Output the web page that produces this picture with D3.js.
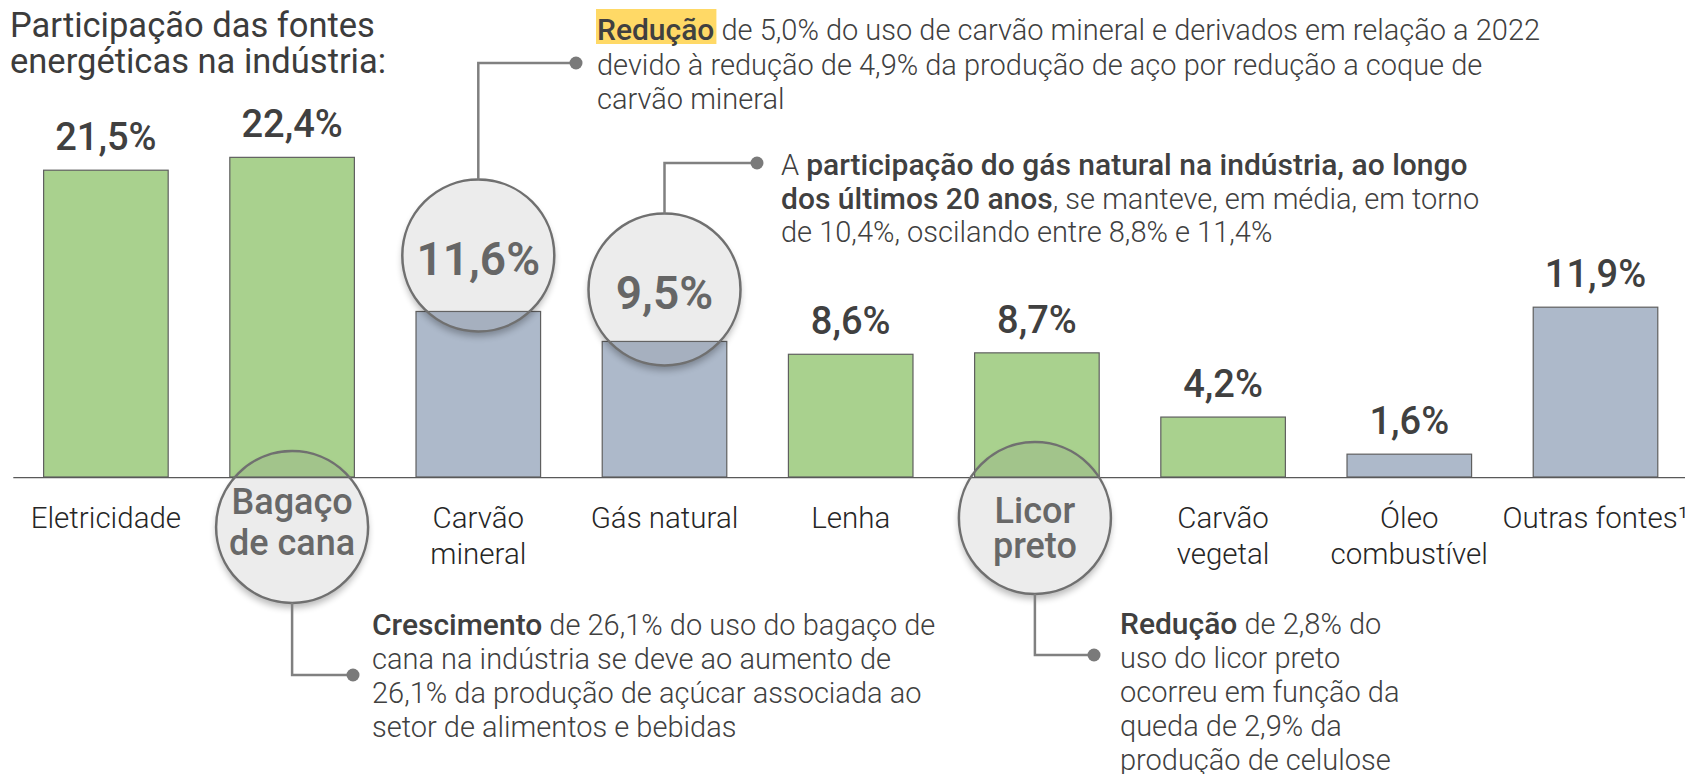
<!DOCTYPE html>
<html>
<head>
<meta charset="utf-8">
<script src="https://cdn.jsdelivr.net/npm/d3@7"></script>
<style>
  html, body { margin: 0; padding: 0; background: #fff; }
  svg { display: block; }
  text { font-family: Roboto, "Noto Sans", sans-serif; white-space: pre; }
</style>
</head>
<body>
<div id="chart"></div>
<script>
// ---------------- DATA ----------------
const categories = ["Eletricidade", "Bagaço de cana", "Carvão mineral", "Gás natural", "Lenha",
                    "Licor preto", "Carvão vegetal", "Óleo combustível", "Outras fontes¹"];
const values = [21.5, 22.4, 11.6, 9.5, 8.6, 8.7, 4.2, 1.6, 11.9];
const sourceType = ["renovável", "renovável", "não renovável", "não renovável", "renovável",
                    "renovável", "renovável", "não renovável", "não renovável"];
const valueLabels = ["21,5%", "22,4%", "11,6%", "9,5%", "8,6%", "8,7%", "4,2%", "1,6%", "11,9%"];
const categoryLines = [["Eletricidade"], ["Bagaço", "de cana"], ["Carvão", "mineral"], ["Gás natural"], ["Lenha"],
                       ["Licor", "preto"], ["Carvão", "vegetal"], ["Óleo", "combustível"], ["Outras fontes¹"]];
const titleLines = ["Participação das fontes", "energéticas na indústria:"];

// highlighted categories (value shown in a magnifier circle / label in circle)
const valueCircles = ["Carvão mineral", "Gás natural"];
const labelCircles = ["Bagaço de cana", "Licor preto"];

// annotation texts (segments: [text, bold, highlight])
const noteCarvao = [
  [["Redução", true, true], [" de 5,0% do uso de carvão mineral e derivados em relação a 2022", false]],
  [["devido à redução de 4,9% da produção de aço por redução a coque de", false]],
  [["carvão mineral", false]]
];
const noteGas = [
  [["A ", false], ["participação do gás natural na indústria, ao longo", true]],
  [["dos últimos 20 anos", true], [", se manteve, em média, em torno", false]],
  [["de 10,4%, oscilando entre 8,8% e 11,4%", false]]
];
const noteBagaco = [
  [["Crescimento", true], [" de 26,1% do uso do bagaço de", false]],
  [["cana na indústria se deve ao aumento de", false]],
  [["26,1% da produção de açúcar associada ao", false]],
  [["setor de alimentos e bebidas", false]]
];
const noteLicor = [
  [["Redução", true], [" de 2,8% do", false]],
  [["uso do licor preto", false]],
  [["ocorreu em função da", false]],
  [["queda de 2,9% da", false]],
  [["produção de celulose", false]]
];

// ---------------- LAYOUT ----------------
const W = 1685, H = 774;
const colors = { "renovável": "#A9D18E", "não renovável": "#ADB9CA" };
const textDark = "#404040";

const svg = d3.select("#chart").append("svg").attr("width", W).attr("height", H);
const defs = svg.append("defs");

const x = d3.scaleBand().domain(categories).range([12.8, 1688.6]).paddingInner(0.331).paddingOuter(0.1655);
const y = d3.scaleLinear().domain([0, 25]).range([477, 477 - 25 * 14.27]);
const cx = c => x(c) + x.bandwidth() / 2;

// Title
const title = svg.append("text").attr("font-size", 34.5).attr("font-weight", 400).attr("fill", "#3c3c3c");
titleLines.forEach((l, i) => title.append("tspan").attr("x", 10).attr("y", 36.5 + i * 36.8).text(l));

// Bars
const data = categories.map((c, i) => ({ c, v: values[i], t: sourceType[i], lab: valueLabels[i], lines: categoryLines[i] }));
svg.append("g").selectAll("rect").data(data).join("rect")
  .attr("x", d => x(d.c)).attr("width", x.bandwidth())
  .attr("y", d => y(d.v)).attr("height", d => y(0) - y(d.v))
  .attr("fill", d => colors[d.t]).attr("stroke", "#5f5f5f").attr("stroke-width", 1.2);

// Circles geometry
const R = 76;
const circ = {
  "Carvão mineral": { cx: cx("Carvão mineral"), cy: y(11.6) - 56 },
  "Gás natural":    { cx: cx("Gás natural"),    cy: y(9.5) - 52 },
  "Bagaço de cana": { cx: cx("Bagaço de cana"), cy: y(0) + 50 },
  "Licor preto":    { cx: cx("Licor preto") - 2, cy: y(0) + 41 }
};
const allCirc = Object.keys(circ);

// Axis (hidden under bottom circles)
const axisMask = defs.append("mask").attr("id", "axisMask").attr("maskUnits", "userSpaceOnUse")
  .attr("x", 0).attr("y", 0).attr("width", W).attr("height", H);
axisMask.append("rect").attr("width", W).attr("height", H).attr("fill", "#fff");
labelCircles.forEach(c => axisMask.append("circle").attr("cx", circ[c].cx).attr("cy", circ[c].cy).attr("r", R).attr("fill", "#000"));

const axisG = svg.append("g").attr("transform", `translate(0,${y(0)})`).attr("mask", "url(#axisMask)")
  .call(d3.axisBottom(x).tickSize(0).tickSizeOuter(0).tickFormat(""));
axisG.select(".domain").attr("stroke", "#595959").attr("stroke-width", 1.5);

// Category labels
const labG = svg.append("g");
data.filter(d => !labelCircles.includes(d.c)).forEach(d => {
  const t = labG.append("text").attr("text-anchor", "middle").attr("font-size", 29.5)
    .attr("font-weight", 300).attr("fill", "#262626");
  d.lines.forEach((l, i) => t.append("tspan").attr("x", cx(d.c)).attr("y", 528 + i * 36).text(l));
});

// Value labels above bars
svg.append("g").selectAll("text").data(data.filter(d => !valueCircles.includes(d.c))).join("text")
  .attr("x", d => cx(d.c)).attr("y", d => y(d.v) - 20)
  .attr("text-anchor", "middle").attr("font-size", 38).attr("font-weight", 500).attr("fill", textDark)
  .text(d => d.lab);

// Shadows + circles
defs.append("filter").attr("id", "blur").attr("x", "-50%").attr("y", "-50%").attr("width", "200%").attr("height", "200%")
  .append("feGaussianBlur").attr("stdDeviation", 3.5);
allCirc.forEach((c, i) => {
  const p = circ[c];
  const m = defs.append("mask").attr("id", "sm" + i).attr("maskUnits", "userSpaceOnUse")
    .attr("x", 0).attr("y", 0).attr("width", W).attr("height", H);
  m.append("rect").attr("width", W).attr("height", H).attr("fill", "#fff");
  m.append("circle").attr("cx", p.cx).attr("cy", p.cy).attr("r", R).attr("fill", "#000");
  svg.append("g").attr("mask", `url(#sm${i})`)
    .append("circle").attr("cx", p.cx).attr("cy", p.cy + 5).attr("r", R)
    .attr("fill", "#000").attr("opacity", 0.28).attr("filter", "url(#blur)");
  svg.append("circle").attr("cx", p.cx).attr("cy", p.cy).attr("r", R)
    .attr("fill", "rgb(128,128,128)").attr("fill-opacity", 0.15)
    .attr("stroke", "#707070").attr("stroke-width", 2.5);
});

// Values in circles
valueCircles.forEach(c => {
  const i = categories.indexOf(c);
  svg.append("text").attr("x", circ[c].cx).attr("y", circ[c].cy + 20)
    .attr("text-anchor", "middle").attr("font-size", 46).attr("font-weight", 600).attr("fill", "#666")
    .text(valueLabels[i]);
});
// Labels in circles
const labelOffsets = { "Bagaço de cana": [-13, 28], "Licor preto": [5, 40] };
labelCircles.forEach(c => {
  const i = categories.indexOf(c);
  const t = svg.append("text").attr("text-anchor", "middle").attr("font-size", 36)
    .attr("font-weight", 500).attr("fill", "#686868");
  categoryLines[i].forEach((l, k) => t.append("tspan").attr("x", circ[c].cx).attr("y", circ[c].cy + labelOffsets[c][k]).text(l));
});

// Connectors
const conn = [
  { c: "Carvão mineral", dir: -1, yEnd: 63, xEnd: 576 },
  { c: "Gás natural",    dir: -1, yEnd: 163, xEnd: 757 },
  { c: "Bagaço de cana", dir: 1,  yEnd: 675, xEnd: 353 },
  { c: "Licor preto",    dir: 1,  yEnd: 655, xEnd: 1094 }
];
conn.forEach(k => {
  const p = circ[k.c];
  const y0 = p.cy + k.dir * R;
  svg.append("path").attr("d", `M${p.cx},${y0}V${k.yEnd}H${k.xEnd}`)
    .attr("fill", "none").attr("stroke", "#808080").attr("stroke-width", 2.5);
  svg.append("circle").attr("cx", k.xEnd).attr("cy", k.yEnd).attr("r", 6.5).attr("fill", "#7a7a7a");
});

// Rich text annotations (bold segments slightly larger than light ones to match widths)
function richText(lines, x0, y0, lh, sizeLight, sizeBold) {
  const g = svg.append("g");
  lines.forEach((segs, i) => {
    const t = g.append("text").attr("x", x0).attr("y", y0 + i * lh).attr("fill", textDark);
    segs.forEach(s => {
      if (s[2]) {
        const tmp = svg.append("text").attr("font-size", sizeBold).attr("font-weight", 500).text(s[0]);
        const w = tmp.node().getComputedTextLength();
        tmp.remove();
        g.insert("rect", ":first-child").attr("x", x0 - 1).attr("y", y0 + i * lh - 31).attr("width", w + 3).attr("height", 35)
          .attr("fill", "#FFD966");
      }
      t.append("tspan").attr("font-weight", s[1] ? 500 : 300)
        .attr("font-size", s[1] ? sizeBold : sizeLight).text(s[0]);
    });
  });
}
richText(noteCarvao, 597, 40, 34.5, 29, 30);
richText(noteGas, 781, 175, 33.5, 29, 30);
richText(noteBagaco, 372, 635, 34, 29, 30);
richText(noteLicor, 1120, 634, 34, 29, 30);
</script>
</body>
</html>
